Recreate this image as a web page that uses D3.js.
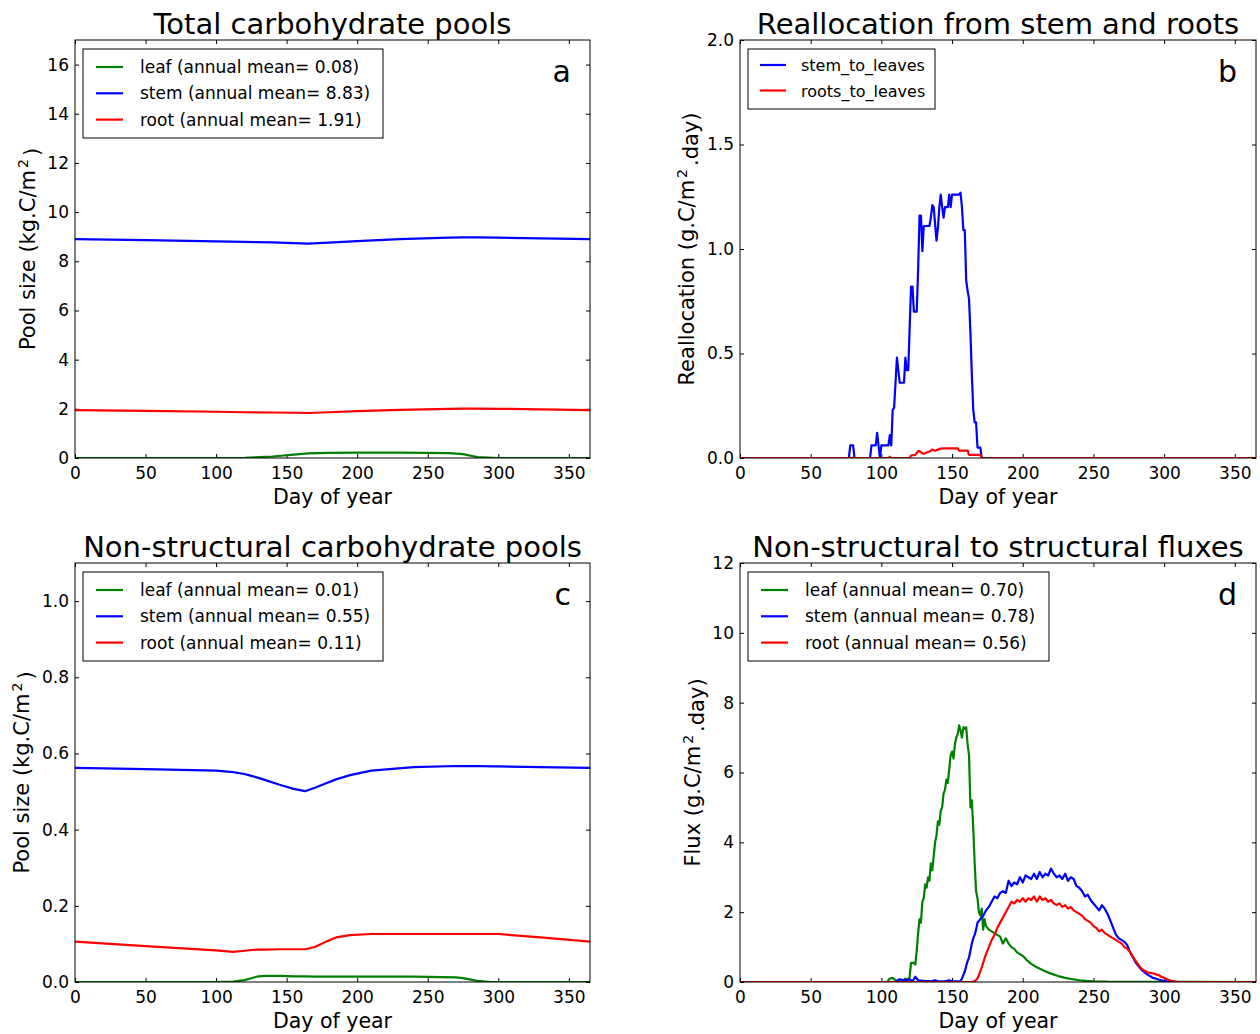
<!DOCTYPE html>
<html>
<head>
<meta charset="utf-8">
<script src="https://cdn.jsdelivr.net/npm/d3@7"></script>
<style>
  body { margin: 0; background: #fff; }
  svg text { font-family: "DejaVu Sans", sans-serif; fill: #000; }
</style>
</head>
<body>
<svg id="chart" width="1260" height="1034"></svg>
<script>
// ---- data ----
const dayTicks = [0, 50, 100, 150, 200, 250, 300, 350];

// (a) total carbohydrate pools, kg C / m2
const totalDays = [0, 50, 100, 120, 140, 155, 165, 180, 200, 230, 265, 275, 285, 300, 330, 365];
const totalLeaf = [0, 0, 0, 0.01, 0.06, 0.14, 0.19, 0.21, 0.22, 0.22, 0.20, 0.16, 0.04, 0, 0, 0];
const totalStem = [8.90, 8.86, 8.81, 8.79, 8.77, 8.74, 8.72, 8.76, 8.82, 8.90, 8.96, 8.97, 8.97, 8.96, 8.93, 8.90];
const totalRoot = [1.95, 1.92, 1.88, 1.86, 1.85, 1.84, 1.83, 1.86, 1.91, 1.96, 2.00, 2.01, 2.01, 2.00, 1.98, 1.95];
const totalTicks = [0, 2, 4, 6, 8, 10, 12, 14, 16];
const totalLabels = ['leaf (annual mean= 0.08)', 'stem (annual mean= 8.83)', 'root (annual mean= 1.91)'];

// (b) reallocation, g C / m2 / day
const stemReallocDays = [0, 77, 78, 80, 81, 92, 93, 96, 97, 98, 99, 100, 101, 105, 106, 107, 108, 109, 111, 113,
  116, 117, 118, 119, 121, 122, 123, 124, 125, 126, 127, 128, 129, 130, 133, 134, 135, 136, 137, 138, 139, 140,
  141, 142, 143, 144, 145, 146, 147, 148, 149, 150, 151, 155, 156, 157, 158, 159, 160, 161, 162, 163, 164, 165,
  166, 167, 168, 169, 170, 171, 172, 365];
const stemToLeaves = [0, 0, 0.06, 0.06, 0, 0, 0.06, 0.06, 0.12, 0.06, 0, 0.06, 0.06, 0.06, 0.11, 0.06, 0.23, 0.24, 0.48, 0.36,
  0.36, 0.48, 0.42, 0.42, 0.82, 0.82, 0.70, 0.70, 0.70, 0.90, 1.16, 1.16, 0.99, 1.11, 1.11, 1.11, 1.15, 1.21, 1.20, 1.12, 1.04, 1.10,
  1.20, 1.26, 1.20, 1.15, 1.20, 1.20, 1.20, 1.26, 1.20, 1.26, 1.26, 1.26, 1.27, 1.20, 1.09, 1.09, 0.85, 0.80, 0.76, 0.60, 0.40, 0.23,
  0.17, 0.17, 0.05, 0.05, 0.05, 0, 0, 0];
const rootReallocDays = [0, 105, 106, 107, 120, 121, 124, 126, 127, 129, 130, 132, 134, 136, 138, 140, 142, 145, 150, 154,
  155, 161, 162, 170, 171, 365];
const rootsToLeaves = [0, 0, 0.006, 0, 0, 0.012, 0.015, 0.033, 0.033, 0.022, 0.02, 0.027, 0.03, 0.04, 0.035, 0.04, 0.045, 0.046, 0.046, 0.046,
  0.035, 0.035, 0.015, 0.015, 0, 0];
const reallocTicks = [0, 0.5, 1.0, 1.5, 2.0];
const reallocLabels = ['stem_to_leaves', 'roots_to_leaves'];

// (c) non-structural carbohydrate pools, kg C / m2
const nscDays = [0, 50, 100, 112, 120, 125, 130, 135, 145, 155, 163, 170, 178, 185, 195, 210, 240, 270, 275, 285, 295, 300, 330, 365];
const nscLeaf = [0, 0, 0, 0.001, 0.005, 0.010, 0.015, 0.016, 0.016, 0.015, 0.015, 0.014, 0.014, 0.014, 0.014, 0.014, 0.014, 0.012, 0.010, 0.003, 0, 0, 0, 0];
const nscStem = [0.562, 0.559, 0.555, 0.551, 0.546, 0.541, 0.536, 0.530, 0.518, 0.507, 0.501, 0.510, 0.522, 0.532, 0.543, 0.555, 0.564, 0.567, 0.567, 0.567, 0.566, 0.566, 0.564, 0.562];
const nscRoot = [0.106, 0.094, 0.083, 0.079, 0.082, 0.084, 0.085, 0.085, 0.086, 0.086, 0.086, 0.092, 0.106, 0.117, 0.123, 0.126, 0.126, 0.126, 0.126, 0.126, 0.126, 0.126, 0.117, 0.106];
const nscTicks = [0, 0.2, 0.4, 0.6, 0.8, 1.0];
const nscLabels = ['leaf (annual mean= 0.01)', 'stem (annual mean= 0.55)', 'root (annual mean= 0.11)'];

// (d) non-structural to structural fluxes, g C / m2 / day
const leafFluxDays = [0, 104, 106, 108, 110, 112, 115, 117, 119, 120, 121, 123, 124, 125, 126, 127, 128, 129, 130, 131, 132,
  133, 134, 135, 136, 137, 138, 139, 140, 141, 142, 143, 144, 145, 146, 147, 148, 149, 150, 151, 152, 153, 154, 155, 156,
  157, 158, 159, 160, 161, 162, 163, 164, 165, 166, 167, 168, 169, 170, 171, 172, 173, 174, 175, 176, 178, 180, 182, 184,
  186, 188, 190, 192, 194, 196, 198, 200, 203, 206, 210, 215, 220, 225, 230, 235, 240, 245, 250, 260, 365];
const leafFlux = [0, 0, 0.10, 0.12, 0.05, 0.03, 0.02, 0.10, 0.05, 0.15, 0.55, 0.55, 0.50, 0.90, 1.40, 1.80, 1.70, 2.30, 2.40, 2.80, 2.70,
  3.00, 2.90, 3.40, 3.20, 3.60, 4.00, 4.20, 4.60, 4.50, 4.90, 5.00, 5.40, 5.50, 5.80, 5.70, 6.10, 6.50, 6.60, 6.40, 6.80, 7.00, 7.10, 7.35, 7.20,
  7.00, 7.30, 7.25, 7.30, 6.80, 6.50, 5.00, 5.20, 4.40, 3.40, 2.60, 2.40, 2.00, 1.90, 2.10, 1.50, 1.80, 1.60, 1.55, 1.50, 1.45, 1.40, 1.35, 1.30,
  1.10, 1.25, 1.10, 1.00, 0.95, 0.85, 0.80, 0.75, 0.62, 0.52, 0.42, 0.32, 0.24, 0.17, 0.12, 0.08, 0.05, 0.03, 0.02, 0.01, 0];
const stemFluxDays = [0, 110, 113, 116, 120, 122, 124, 126, 130, 135, 138, 140, 145, 148, 150, 153, 156, 157, 158, 159, 160,
  161, 162, 163, 164, 165, 166, 167, 168, 170, 172, 174, 176, 178, 180, 182, 184, 186, 188, 190, 192, 194, 196, 198, 200,
  202, 204, 206, 208, 210, 212, 214, 216, 218, 220, 222, 224, 226, 228, 230, 232, 234, 236, 238, 240, 242, 244, 246, 248,
  250, 252, 254, 256, 258, 260, 262, 264, 266, 268, 270, 272, 274, 276, 278, 280, 282, 284, 286, 288, 290, 292, 294, 296,
  298, 300, 303, 306, 365];
const stemFlux = [0, 0, 0.08, 0.05, 0.08, 0.02, 0.15, 0.05, 0.03, 0.02, 0.05, 0.02, 0.02, 0.05, 0.02, 0.02, 0.02, 0.10, 0.20, 0.30, 0.45,
  0.60, 0.70, 0.90, 1.10, 1.25, 1.35, 1.50, 1.70, 1.80, 1.90, 2.05, 2.15, 2.30, 2.45, 2.40, 2.55, 2.60, 2.55, 2.90, 2.75, 2.85, 2.80, 3.00, 2.85,
  3.05, 3.00, 2.95, 3.10, 2.95, 3.15, 3.00, 3.10, 3.05, 3.25, 3.10, 3.00, 3.05, 2.95, 3.10, 2.90, 3.00, 2.95, 2.75, 2.70, 2.60, 2.45, 2.50, 2.35,
  2.25, 2.15, 2.05, 2.20, 2.10, 1.95, 1.75, 1.55, 1.35, 1.25, 1.20, 1.15, 1.05, 0.85, 0.70, 0.55, 0.45, 0.35, 0.28, 0.22, 0.17, 0.12, 0.10, 0.07,
  0.05, 0.03, 0.01, 0, 0];
const rootFluxDays = [0, 164, 166, 168, 170, 172, 174, 176, 178, 180, 182, 184, 186, 188, 190, 192, 194, 196, 198, 200, 202,
  204, 206, 208, 210, 212, 214, 216, 218, 220, 222, 224, 226, 228, 230, 232, 234, 236, 238, 240, 242, 244, 246, 248, 250,
  252, 254, 256, 258, 260, 262, 264, 266, 268, 270, 272, 274, 276, 278, 280, 282, 284, 286, 288, 290, 292, 294, 296, 298,
  300, 302, 304, 306, 308, 310, 365];
const rootFlux = [0, 0, 0.02, 0.10, 0.30, 0.55, 0.80, 1.00, 1.20, 1.35, 1.55, 1.70, 1.85, 2.00, 2.15, 2.30, 2.25, 2.35, 2.30, 2.40, 2.30,
  2.40, 2.35, 2.45, 2.30, 2.45, 2.35, 2.40, 2.30, 2.35, 2.25, 2.20, 2.25, 2.15, 2.20, 2.10, 2.15, 2.05, 2.00, 1.95, 1.90, 1.80, 1.75, 1.70, 1.60,
  1.55, 1.45, 1.50, 1.40, 1.35, 1.30, 1.25, 1.20, 1.15, 1.10, 1.00, 0.95, 0.85, 0.72, 0.60, 0.48, 0.38, 0.32, 0.28, 0.26, 0.25, 0.22, 0.20, 0.15,
  0.12, 0.08, 0.05, 0.03, 0.01, 0, 0];
const fluxTicks = [0, 2, 4, 6, 8, 10, 12];
const fluxLabels = ['leaf (annual mean= 0.70)', 'stem (annual mean= 0.78)', 'root (annual mean= 0.56)'];

const green = '#008000', blue = '#0000ff', red = '#ff0000';

// ---- panel layout ----
const svg = d3.select('#chart');

const panels = [
  {left: 75, top: 40, width: 515, height: 418, ymax: 17, yTicks: totalTicks, fmt: d3.format('d'),
   title: 'Total carbohydrate pools', ylab: ['Pool size (kg.C/m', '2', ')'], ylabX: 35, letter: 'a',
   series: [[totalDays, totalLeaf, green], [totalDays, totalStem, blue], [totalDays, totalRoot, red]],
   labels: totalLabels, legend: {w: 300, h: 89, lx1: 13, lx2: 40, tx: 57, fs: 17, y0: 18, dy: 26.3}},
  {left: 740, top: 40, width: 516, height: 418, ymax: 2, yTicks: reallocTicks, fmt: d3.format('.1f'),
   title: 'Reallocation from stem and roots', ylab: ['Reallocation (g.C/m', '2', '.day)'], ylabX: 694, letter: 'b',
   series: [[stemReallocDays, stemToLeaves, blue], [rootReallocDays, rootsToLeaves, red]],
   labels: reallocLabels, legend: {w: 187, h: 60, lx1: 12, lx2: 38, tx: 53, fs: 16, y0: 16, dy: 25.5}},
  {left: 75, top: 563, width: 515, height: 419, ymax: 1.1, yTicks: nscTicks, fmt: d3.format('.1f'),
   title: 'Non-structural carbohydrate pools', ylab: ['Pool size (kg.C/m', '2', ')'], ylabX: 29, letter: 'c',
   series: [[nscDays, nscLeaf, green], [nscDays, nscStem, blue], [nscDays, nscRoot, red]],
   labels: nscLabels, legend: {w: 300, h: 89, lx1: 13, lx2: 40, tx: 57, fs: 17, y0: 18, dy: 26.3}},
  {left: 740, top: 563, width: 516, height: 419, ymax: 12, yTicks: fluxTicks, fmt: d3.format('d'),
   title: 'Non-structural to structural fluxes', ylab: ['Flux (g.C/m', '2', '.day)'], ylabX: 700, letter: 'd',
   series: [[leafFluxDays, leafFlux, green], [stemFluxDays, stemFlux, blue], [rootFluxDays, rootFlux, red]],
   labels: fluxLabels, legend: {w: 301, h: 89, lx1: 13, lx2: 40, tx: 57, fs: 17, y0: 18, dy: 26.3}}
];

panels.forEach((p, pi) => {
  const g = svg.append('g').attr('transform', `translate(${p.left},${p.top})`);
  const x = d3.scaleLinear().domain([0, 365]).range([0, p.width]);
  const y = d3.scaleLinear().domain([0, p.ymax]).range([p.height, 0]);

  // clip for the curves
  g.append('clipPath').attr('id', 'clip' + pi)
    .append('rect').attr('width', p.width).attr('height', p.height);

  // axes, ticks pointing inwards on all four sides
  const styleAxis = sel => {
    sel.select('.domain').remove();
    sel.selectAll('line').attr('stroke', '#000');
    sel.selectAll('text').style('font-size', '17px').attr('fill', '#000');
  };
  g.append('g').attr('transform', `translate(0,${p.height})`)
    .call(d3.axisBottom(x).tickValues(dayTicks).tickSize(-4).tickPadding(9))
    .call(styleAxis);
  g.append('g')
    .call(d3.axisTop(x).tickValues(dayTicks).tickSize(-4).tickFormat(''))
    .call(styleAxis);
  g.append('g')
    .call(d3.axisLeft(y).tickValues(p.yTicks).tickSize(-4).tickPadding(6).tickFormat(p.fmt))
    .call(styleAxis);
  g.append('g').attr('transform', `translate(${p.width},0)`)
    .call(d3.axisRight(y).tickValues(p.yTicks).tickSize(-4).tickFormat(''))
    .call(styleAxis);

  // lines
  const line = d3.line()
    .x(d => x(d[0]))
    .y(d => y(d[1]));
  p.series.forEach(s => {
    const pts = s[0].map((d, i) => [d, s[1][i]]);
    g.append('path')
      .datum(pts)
      .attr('clip-path', `url(#clip${pi})`)
      .attr('fill', 'none')
      .attr('stroke', s[2])
      .attr('stroke-width', 2.2)
      .attr('stroke-linejoin', 'round')
      .attr('d', line);
  });

  // frame
  g.append('rect')
    .attr('width', p.width).attr('height', p.height)
    .attr('fill', 'none').attr('stroke', '#000').attr('stroke-width', 1);

  // legend
  const lg = g.append('g').attr('transform', 'translate(8,9)');
  lg.append('rect')
    .attr('width', p.legend.w).attr('height', p.legend.h)
    .attr('fill', '#fff').attr('stroke', '#000').attr('stroke-width', 1);
  p.labels.forEach((lab, i) => {
    const ly = p.legend.y0 + i * p.legend.dy;
    lg.append('line')
      .attr('x1', p.legend.lx1).attr('x2', p.legend.lx2)
      .attr('y1', ly).attr('y2', ly)
      .attr('stroke', p.series[i][2]).attr('stroke-width', 2.2);
    lg.append('text')
      .attr('x', p.legend.tx).attr('y', ly + 6)
      .style('font-size', p.legend.fs + 'px')
      .text(lab);
  });

  // panel letter
  g.append('text')
    .attr('x', p.width - 19).attr('y', 42)
    .attr('text-anchor', 'end')
    .style('font-size', '30px')
    .text(p.letter);

  // title
  g.append('text')
    .attr('x', p.width / 2).attr('y', -6)
    .attr('text-anchor', 'middle')
    .style('font-size', '29px')
    .text(p.title);

  // x label
  g.append('text')
    .attr('x', p.width / 2).attr('y', p.height + 46)
    .attr('text-anchor', 'middle')
    .style('font-size', '20.5px')
    .text('Day of year');

  // y label with superscript
  const yl = svg.append('text')
    .attr('transform', `translate(${p.ylabX},${p.top + p.height / 2}) rotate(-90)`)
    .attr('text-anchor', 'middle')
    .style('font-size', '21px');
  yl.append('tspan').text(p.ylab[0]);
  yl.append('tspan').attr('dx', 2).attr('dy', '-0.5em').style('font-size', '14px').text(p.ylab[1]);
  yl.append('tspan').attr('dx', 3).attr('dy', '0.5em').text(p.ylab[2]);
});
</script>
</body>
</html>
